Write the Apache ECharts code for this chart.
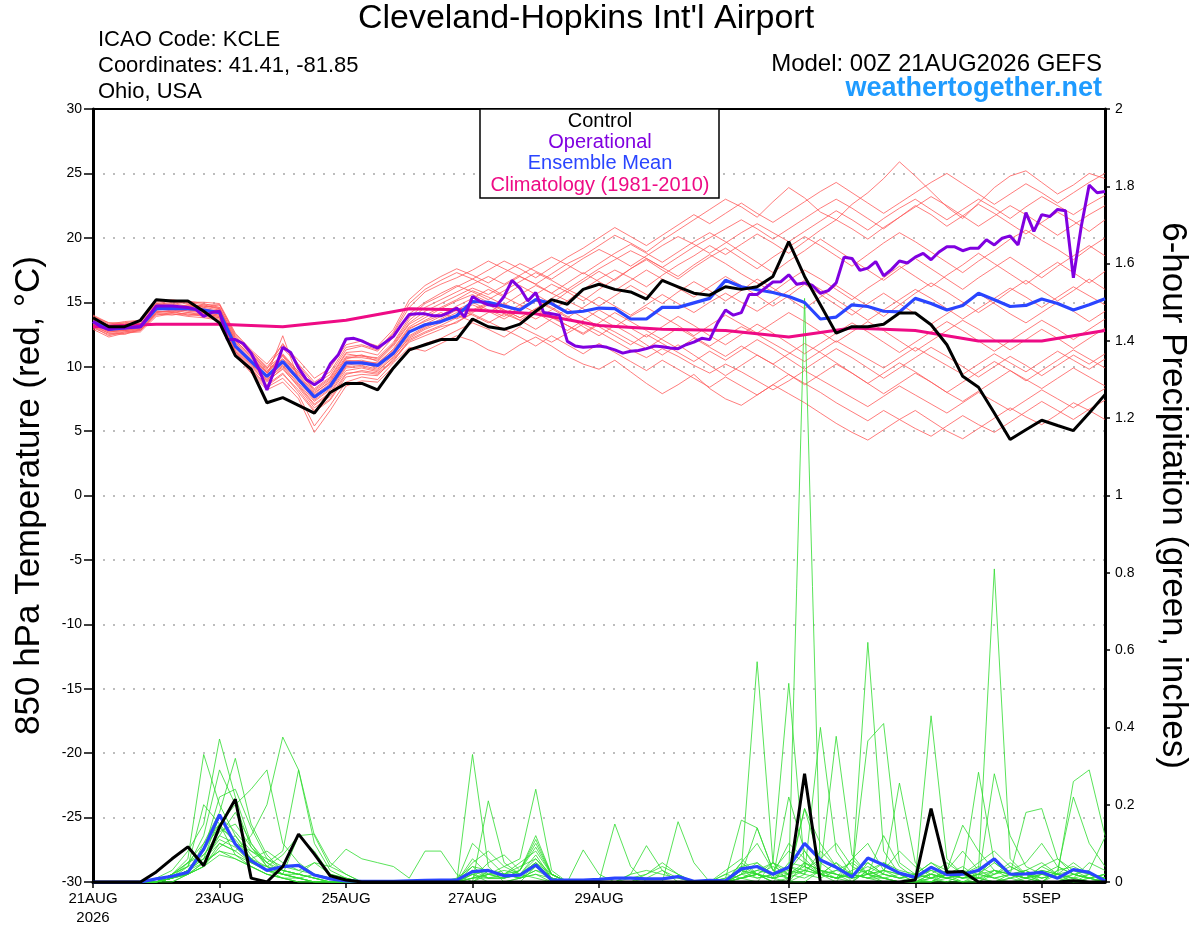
<!DOCTYPE html>
<html><head><meta charset="utf-8">
<script src="https://cdn.jsdelivr.net/npm/echarts@6/dist/echarts.min.js"></script>
<style>html,body{margin:0;padding:0;background:#fff}#c{width:1200px;height:927px}</style>
</head><body><div id="c"></div>
<script>
const FONT = "'Liberation Sans', Arial, Helvetica, sans-serif";
const memberStepHours = 6;
const opStepHours = 3;
const tickHours = [0, 48, 96, 144, 192, 264, 312, 360];
const tickLabels = ['21AUG\n2026', '23AUG', '25AUG', '27AUG', '29AUG', '1SEP', '3SEP', '5SEP'];

const climHours = [0,24,48,72,96,120,144,168,192,216,240,264,288,312,336,360,384];
const climValues = [13.1,13.3,13.3,13.1,13.6,14.5,14.4,14.1,13.2,12.9,12.8,12.3,13.0,12.8,12.0,12.0,12.8];

const controlTemp = [13.8,13.1,13.1,13.6,15.2,15.1,15.1,14.3,13.4,10.85,9.8,7.2,7.6,7.0,6.4,8.0,8.7,8.7,8.2,9.9,11.3,11.7,12.1,12.1,13.7,13.1,12.9,13.3,14.3,15.2,14.85,16.0,16.4,16.0,15.8,15.25,16.7,16.2,15.7,15.55,16.2,16.0,16.2,17.0,19.7,17.0,14.8,12.6,13.1,13.1,13.3,14.16,14.16,13.25,11.7,9.25,8.4,6.4,4.34,5.1,5.84,5.43,5.04,6.4,7.83];
const meanTemp = [13.5,12.9,13.0,13.1,14.5,14.5,14.5,14.4,14.2,11.6,10.4,9.25,10.4,9.0,7.65,8.5,10.3,10.3,10.1,11.05,12.7,13.25,13.5,13.95,15.06,15.0,14.7,14.4,15.2,14.9,14.2,14.3,14.55,14.5,13.7,13.7,14.6,14.6,14.95,15.3,16.7,16.2,15.97,15.76,15.45,14.98,13.7,13.85,14.8,14.67,14.3,14.25,15.3,14.9,14.4,14.75,15.7,15.2,14.67,14.75,15.25,14.9,14.4,14.8,15.28];
const operationalTemp = [
13.5,13.1,12.9,13.0,13.0,13.05,13.1,13.9,
14.7,14.7,14.7,14.65,14.6,14.45,13.9,14.2,
14.3,12.1,12.1,11.8,11.05,9.8,8.2,9.8,
11.5,11.1,9.9,9.0,8.6,9.0,10.2,10.9,
12.15,12.2,12.0,11.7,11.45,11.9,12.35,13.25,
14.05,14.1,14.1,13.95,13.95,14.2,14.55,13.85,
15.45,15.06,14.8,14.7,15.45,16.7,16.1,15.1,
15.75,14.2,14.1,14.0,11.96,11.6,11.5,11.55,
11.6,11.5,11.3,11.05,11.2,11.25,11.4,11.6,
11.55,11.45,11.4,11.7,11.9,12.2,12.1,13.4,
14.4,14.0,14.2,15.6,15.6,16.1,16.57,16.6,
17.13,16.4,16.5,16.3,15.7,15.9,16.5,18.5,
18.4,17.47,17.65,18.16,17.05,17.55,18.2,18.05,
18.5,18.8,18.3,18.9,19.3,19.3,19.0,19.2,
19.2,19.85,19.45,19.97,20.15,19.45,21.96,20.5,
21.8,21.65,22.2,22.1,16.9,20.9,24.1,23.5,
23.6];

const controlPrecip = [0,0,0,0,0.026,0.06,0.091,0.042,0.142,0.214,0.01,0,0.04, 0.124,0.072,0.016,0.005,0,0,0,0,0,0,0,0,0, 0,0,0,0,0,0,0,0,0,0,0,0,0, 0,0,0,0,0,0,0.28,0,0,0,0,0,0, 0.005,0.19,0.025,0.027,0,0,0,0,0,0,0.003,0,0];
const meanPrecip = [0,0,0,0,0.008,0.015,0.025,0.085,0.174,0.098,0.055,0.03,0.04, 0.043,0.018,0.008,0.003,0.002,0.002,0.002,0.003,0.004,0.005,0.005,0.027,0.03, 0.016,0.018,0.044,0.005,0.005,0.005,0.007,0.01,0.01,0.008,0.008,0.014,0.002, 0.004,0.003,0.034,0.04,0.02,0.038,0.1,0.057,0.038,0.013,0.062,0.044,0.023, 0.012,0.038,0.019,0.02,0.03,0.06,0.02,0.021,0.025,0.01,0.032,0.025,0.003];

const memberTemp01 = [13.8,13.2,13.4,13.3,14.8,15.0,14.9,14.6,14.8, 12.4,11.0,9.8,11.8,10.1,8.6,9.4,11.3,11.6,11.2,12.6,14.6, 15.8,16.4,16.9,17.5,18.2,17.6,17.0,16.4,17.2,18.0,18.6,19.4,20.2,19.6,18.9,19.8,20.6,21.4,22.2,23.0, 22.4,21.6,22.8,23.9,23.1,22.0,21.4,22.6,23.5,24.6,25.9,24.8,23.6,22.4,21.5,22.7,23.9,24.8,25.2,24.3,23.4,24.1,25.0,24.6];
const memberTemp02 = [13.2,12.6,12.5,12.9,14.2,14.3,14.0,14.1,13.9, 11.0,9.6,8.4,9.1,7.8,5.4,7.0,8.8,9.2,9.0,10.3,11.5, 11.2,11.8,12.4,12.0,11.3,10.9,11.7,12.3,11.6,10.8,10.2,9.8,10.5,9.6,8.7,7.9,8.6,9.4,8.3,7.5, 7.0,7.8,8.6,7.9,7.2,6.4,5.6,4.9,4.3,5.1,5.9,6.6,5.8,5.0,4.4,5.2,6.0,6.8,6.1,5.5,6.3,7.2,6.6,5.9];
const memberTemp03 = [13.6,13.0,13.2,13.4,14.6,14.7,14.6,14.8,14.5, 12.0,10.8,9.5,10.8,9.3,7.9,8.9,10.6,10.9,10.4,11.6,13.3, 14.0,14.6,15.2,15.9,15.4,14.8,15.6,16.3,15.7,15.1,16.0,16.8,17.5,16.9,16.2,17.1,17.9,18.6,19.4,18.7, 19.5,20.3,19.6,18.8,19.7,20.6,21.4,20.7,19.9,20.8,21.6,22.5,21.8,20.9,21.7,22.6,21.9,21.1,20.3,21.2,22.0,21.3,20.5,21.4];
const memberTemp04 = [13.1,12.4,12.7,12.8,14.1,14.0,14.2,14.0,13.8, 11.2,9.9,8.8,9.9,8.4,6.8,7.7,9.5,9.6,9.4,10.4,12.0, 12.6,13.1,13.4,14.2,14.8,14.1,13.6,14.4,13.8,13.2,12.5,13.3,12.7,12.0,11.4,12.2,13.0,12.3,11.6,12.4, 13.1,12.5,11.8,11.1,10.4,11.2,12.0,11.3,10.6,9.9,10.7,11.5,10.8,10.1,9.4,10.2,11.0,10.3,9.6,10.4,11.2,10.5,9.8,10.6];
const memberTemp05 = [14.0,13.4,13.3,13.5,14.9,14.8,15.1,14.9,14.6, 12.3,11.1,9.9,10.9,9.6,8.2,9.1,11.0,10.8,10.7,11.9,13.8, 14.9,15.5,16.2,16.8,16.2,15.5,16.3,15.6,14.9,15.8,16.6,17.4,16.7,17.6,18.3,17.5,16.8,17.7,18.5,19.2, 18.4,17.6,18.5,19.3,20.1,19.4,18.6,17.8,18.7,19.6,20.4,19.7,18.9,18.1,17.3,18.2,19.0,19.9,20.6,19.8,19.1,18.3,19.2,20.0];
const memberTemp06 = [13.3,12.8,12.9,13.0,14.4,14.6,14.3,14.2,14.0, 11.4,10.1,9.0,10.1,8.7,7.3,8.2,10.0,10.1,9.8,10.9,12.4, 13.1,13.7,14.4,15.0,14.4,13.9,14.6,15.2,14.6,13.9,13.1,12.4,13.2,12.5,11.7,10.9,11.7,10.9,10.1,9.3, 10.1,10.9,10.2,9.4,8.6,9.4,10.2,9.5,8.7,7.9,8.7,9.5,8.8,8.0,7.3,8.1,8.9,9.7,9.0,8.3,9.1,9.9,9.2,8.5];
const memberTemp07 = [13.7,13.1,13.1,13.2,14.7,14.4,14.7,14.5,14.3, 11.8,10.5,9.3,12.4,9.0,7.5,8.5,10.4,10.5,10.2,11.4,13.1, 13.8,14.5,15.1,15.6,15.0,14.4,13.8,14.5,15.3,16.0,15.4,14.7,15.5,16.3,15.6,14.9,15.8,16.6,15.9,15.1, 15.9,16.8,16.1,15.3,14.5,15.4,16.3,15.5,14.7,13.9,14.8,15.7,16.5,15.8,15.0,14.2,15.0,15.9,16.7,15.9,15.1,15.9,16.8,16.0];
const memberTemp08 = [12.9,12.3,12.6,12.7,13.9,14.1,13.9,13.8,13.6, 10.9,9.5,8.2,8.8,7.5,4.9,6.6,8.5,8.9,8.8,10.0,11.2, 11.8,12.2,12.8,13.4,12.9,12.3,13.1,12.5,11.9,12.6,13.3,12.7,12.0,11.3,10.7,11.4,10.8,10.1,9.5,10.2, 9.6,8.9,8.2,8.9,9.7,9.0,8.3,7.6,6.9,7.7,8.5,7.8,7.1,6.4,7.2,8.0,7.3,6.6,7.4,8.2,7.5,6.8,7.6,8.3];
const memberTemp09 = [13.5,13.0,13.1,13.2,14.5,14.6,14.6,14.3,14.4, 11.9,10.6,9.5,10.6,9.2,7.8,8.7,10.5,10.4,10.3,11.3,13.0, 13.5,14.0,14.7,15.3,16.0,15.4,14.8,15.6,16.4,15.8,15.1,16.0,16.8,17.6,18.4,17.7,17.0,17.9,18.7,18.0, 17.2,16.5,15.8,16.7,17.5,16.8,16.0,15.2,16.1,16.9,17.8,17.0,16.2,17.1,17.9,18.8,18.0,17.2,16.4,17.3,18.1,17.3,16.5,17.4];
const memberTemp10 = [13.4,12.7,12.8,13.0,14.3,14.2,14.4,14.3,14.1, 11.5,10.3,9.1,10.2,8.9,7.4,8.3,10.1,10.3,9.9,11.1,12.7, 13.3,13.9,14.5,14.0,13.4,14.1,14.8,14.2,13.5,12.8,13.6,14.4,13.7,13.0,12.3,13.1,13.9,13.2,12.4,11.7, 12.5,13.3,12.6,11.8,11.0,11.8,12.6,13.4,12.7,11.9,11.1,11.9,12.7,13.5,12.8,12.0,11.2,12.0,12.8,13.6,12.9,12.1,12.9,13.7];
const memberTemp11 = [13.9,13.3,13.5,13.6,15.0,15.2,15.0,15.0,14.9, 12.6,11.3,10.2,11.7,10.5,9.1,9.9,11.7,12.0,11.6,12.9,15.2, 16.3,17.0,17.6,17.1,16.5,17.3,18.0,17.4,16.8,17.6,18.4,19.1,18.5,17.8,18.6,19.4,20.1,19.5,18.8,19.6, 20.4,21.1,20.4,19.7,20.5,21.3,22.1,21.4,20.6,21.5,22.3,23.0,22.2,21.4,22.2,23.0,22.3,21.5,22.4,23.2,22.5,21.8,22.6,23.3];
const memberTemp12 = [13.0,12.5,12.6,12.8,14.0,14.2,14.1,13.9,13.7, 11.1,9.8,8.6,9.5,8.0,6.5,7.4,9.2,9.4,9.3,10.6,11.9, 12.4,12.9,13.5,14.1,13.5,12.9,12.3,11.6,12.4,11.7,11.0,11.8,11.1,10.4,9.7,10.5,9.8,9.1,8.4,9.2, 8.5,7.8,8.6,9.4,8.7,8.0,7.2,6.5,5.8,6.6,5.9,5.2,4.6,5.4,6.2,5.5,4.9,5.7,6.5,7.3,6.6,5.9,6.7,7.4];
const memberTemp13 = [13.6,13.1,13.0,13.1,14.6,14.5,14.8,14.6,14.4, 12.1,10.7,9.6,10.9,9.4,8.0,8.8,10.7,10.7,10.5,11.8,13.6, 14.6,15.2,15.8,16.4,17.0,16.4,17.1,17.8,18.5,17.9,17.2,18.0,18.8,19.5,18.8,18.1,18.9,19.7,20.4,19.7, 18.9,18.1,17.3,18.2,19.0,19.9,19.1,18.3,17.5,16.7,17.6,18.4,17.6,16.8,16.0,16.9,17.7,18.5,17.7,16.9,17.8,18.6,19.4,18.6];
const memberTemp14 = [13.2,12.7,12.8,12.9,14.2,14.4,14.2,14.1,13.9, 11.3,10.0,8.9,9.8,8.5,7.0,7.9,9.7,9.9,9.6,10.8,12.2, 12.9,13.4,14.0,13.5,14.2,14.9,14.3,13.7,14.4,15.1,14.5,13.8,13.1,13.9,14.6,13.9,13.2,12.4,13.2,14.0, 13.3,12.6,13.4,14.2,13.5,12.7,11.9,12.7,13.5,12.8,12.0,11.2,12.0,12.8,13.6,12.9,12.1,11.3,12.1,12.9,12.2,11.4,12.2,13.0];
const memberTemp15 = [13.8,13.2,13.3,13.5,14.8,14.9,14.7,14.7,14.6, 12.2,11.0,9.7,10.6,9.5,8.3,9.2,11.1,11.2,10.9,12.3,14.1, 15.0,15.7,16.3,15.8,15.2,15.9,16.6,17.3,16.7,16.0,16.8,17.6,18.3,19.0,18.4,17.7,18.5,19.3,20.0,20.7, 21.4,20.7,19.9,20.7,21.5,22.3,23.0,22.3,21.5,20.7,21.6,22.4,23.2,22.5,21.7,20.9,21.7,22.5,21.8,21.0,20.2,21.0,21.8,22.5];
const memberTemp16 = [13.4,12.9,12.9,13.1,14.4,14.5,14.5,14.4,14.2, 11.7,10.4,9.2,10.4,9.1,7.6,8.6,10.3,10.2,10.1,11.2,12.9, 13.6,14.2,13.7,14.3,14.9,14.3,13.6,12.9,13.7,14.5,13.8,13.1,12.4,11.7,12.5,11.8,11.1,10.4,11.2,10.5, 11.3,12.1,11.4,10.6,9.8,10.6,11.4,10.7,9.9,9.1,9.9,10.7,11.5,10.8,10.0,9.2,10.0,10.8,10.1,9.3,10.1,10.9,10.2,11.0];
const memberTemp17 = [13.7,13.0,13.2,13.3,14.7,14.6,14.8,14.7,14.5, 12.0,10.9,9.6,11.0,9.6,8.1,9.0,10.8,10.9,10.6,11.7,13.4, 14.3,14.9,15.5,16.1,15.6,16.3,17.0,16.4,15.7,16.5,17.3,16.6,15.9,16.7,17.5,16.8,16.1,15.4,16.2,17.0, 16.3,15.5,14.7,15.5,16.4,15.6,14.8,14.0,14.9,15.7,14.9,14.1,13.3,14.1,14.9,15.7,14.9,14.1,13.4,14.2,15.0,14.3,13.5,14.3];
const memberTemp18 = [13.1,12.6,12.7,12.9,14.1,14.1,14.0,14.0,13.8, 11.2,9.7,8.5,9.4,8.2,6.6,7.5,9.4,9.7,9.5,10.5,12.1, 12.7,13.2,13.8,14.4,15.0,14.4,13.8,14.5,13.9,13.2,12.6,13.4,14.2,13.5,12.8,12.1,11.4,12.2,11.5,10.8, 11.6,10.9,10.2,11.0,11.8,11.1,10.3,9.5,8.7,9.5,10.3,9.6,8.8,8.0,8.8,9.6,10.4,9.7,8.9,9.7,10.5,11.3,10.6,9.9];
const memberTemp19 = [13.9,13.4,13.4,13.6,14.9,15.1,15.0,14.8,14.8, 12.5,11.2,10.0,11.4,10.2,8.8,9.6,11.5,11.7,11.3,12.7,14.9, 16.0,16.7,17.3,16.8,17.5,18.2,17.6,16.9,17.7,18.5,19.2,20.0,20.8,20.1,19.4,20.2,21.0,21.8,21.1,21.9, 22.7,21.9,21.2,22.0,22.8,23.6,24.3,23.5,22.7,21.9,22.7,23.5,24.3,25.0,24.2,23.4,22.6,23.4,24.2,23.5,22.7,23.5,24.3,25.0];
const memberTemp20 = [13.3,12.8,12.8,13.0,14.3,14.3,14.4,14.2,14.0, 11.5,10.2,9.0,10.0,8.6,7.1,8.0,9.9,10.0,9.7,10.7,12.3, 13.0,13.6,14.2,14.8,14.3,13.7,14.4,15.1,14.5,13.8,14.6,15.4,14.7,14.0,14.8,15.6,14.9,14.2,15.0,15.7, 15.0,14.3,15.1,15.9,16.7,16.0,15.2,14.4,13.6,14.4,15.2,16.0,15.3,14.5,13.7,14.5,15.3,16.1,15.4,14.6,15.4,16.2,15.5,14.8];

const memberPrecip01 = [0,0,0,0,0.01,0.03,0.08,0.15,0.37,0.22,0.10,0.05,0.03, 0.02,0.01,0,0,0,0,0,0,0,0,0,0.02,0, 0,0,0.04,0.01,0,0,0,0,0,0,0,0,0, 0,0,0.01,0.02,0,0.01,1.51,0.02,0.05,0,0.03,0.01,0, 0,0.02,0.01,0,0,0.03,0.01,0,0,0,0.02,0.01,0];
const memberPrecip02 = [0,0,0,0,0,0.02,0.06,0.33,0.2,0.12,0.06,0.03,0.02, 0.01,0,0,0,0,0,0,0,0,0,0,0.33,0.04, 0,0.01,0.02,0,0,0,0,0,0,0,0,0,0, 0,0,0.02,0.05,0.01,0,0,0.03,0.02,0.01,0.62,0.08,0.02, 0,0,0.01,0,0,0.02,0.05,0.02,0,0,0.01,0,0];
const memberPrecip03 = [0,0,0,0,0,0.01,0.03,0.06,0.1,0.08,0.12,0.2,0.375, 0.29,0.12,0.04,0.02,0,0,0,0,0,0,0,0,0.21, 0.05,0.02,0.01,0,0,0,0,0,0,0,0,0,0, 0,0,0.03,0.57,0.05,0,0.02,0.4,0.08,0.02,0.01,0,0, 0,0.02,0.05,0.02,0,0,0.01,0.03,0,0,0,0.01,0];
const memberPrecip04 = [0,0,0,0,0,0.02,0.05,0.1,0.18,0.32,0.15,0.07,0.03, 0.02,0.01,0,0,0,0,0,0,0,0,0,0.05,0.08, 0.04,0.06,0.24,0.03,0,0,0,0,0,0,0,0,0, 0,0.02,0.01,0,0.05,0.514,0.04,0.02,0,0.06,0.02,0,0, 0,0,0.03,0.08,0.03,0.01,0,0.01,0.04,0.02,0,0,0.01];
const memberPrecip05 = [0,0,0,0,0,0.01,0.04,0.12,0.29,0.2,0.09,0.05,0.08, 0.29,0.1,0.03,0.01,0,0,0,0,0,0,0,0,0, 0,0.01,0.02,0.01,0,0,0,0.15,0.04,0,0,0,0, 0,0.01,0.16,0.14,0.03,0.01,0.19,0.05,0.02,0,0.03,0.05,0.02, 0,0.01,0,0,0.01,0.28,0.12,0.04,0.02,0.01,0,0,0];
const memberPrecip06 = [0,0,0,0,0,0.01,0.03,0.08,0.15,0.2,0.24,0.29,0.1, 0.05,0.02,0.01,0,0,0,0,0,0,0,0,0,0.03, 0.02,0.04,0.06,0.02,0,0,0,0,0,0,0,0.156,0.05, 0,0,0.05,0.02,0.01,0.22,0.08,0.03,0.02,0.01,0.02,0.12,0.04, 0.01,0,0.02,0,0.02,0.06,0.02,0.01,0,0.03,0.04,0.02,0];
const memberPrecip07 = [0,0,0,0,0,0,0.02,0.05,0.12,0.1,0.08,0.06,0.04, 0.03,0.05,0.04,0.085,0.06,0.05,0.04,0.01,0.08,0.08,0.02,0,0, 0,0,0,0,0,0,0,0,0.02,0.094,0.03,0,0, 0,0,0.01,0.02,0,0,0.05,0.03,0.01,0.06,0.1,0.03,0.01, 0,0,0.02,0.04,0.01,0,0.02,0.01,0,0.02,0.05,0.02,0.01];
const memberPrecip08 = [0,0,0,0,0,0.02,0.04,0.2,0.15,0.1,0.06,0.04,0.07, 0.12,0.08,0.02,0.01,0,0,0,0,0,0,0,0.1,0.06, 0.02,0.03,0.1,0.02,0,0.083,0.02,0,0,0,0,0,0, 0,0,0.05,0.1,0.03,0.08,0.05,0.03,0.377,0.07,0.02,0.01,0, 0.01,0.43,0.06,0.02,0.01,0,0.01,0.02,0.03,0.02,0.01,0,0];
const memberPrecip09 = [0,0,0,0,0,0.01,0.05,0.08,0.22,0.24,0.14,0.06,0.03, 0.02,0.05,0.02,0.01,0,0,0,0,0,0,0.01,0.04,0.03, 0.02,0.05,0.08,0.02,0,0,0,0,0,0,0,0,0, 0,0.02,0.04,0.02,0,0.05,0.04,0.02,0.01,0.02,0.365,0.41,0.05, 0.02,0.05,0.03,0.01,0.02,0.05,0.02,0.18,0.19,0.06,0.02,0.01,0];
const memberPrecip10 = [0,0,0,0,0,0.01,0.03,0.06,0.17,0.13,0.08,0.05,0.02, 0.12,0.124,0.05,0.02,0,0,0,0,0,0,0,0.03,0.02, 0.04,0.02,0.05,0.01,0,0,0,0,0,0,0,0,0, 0,0,0.03,0.02,0.05,0.03,0.02,0.08,0.04,0.01,0.02,0.03,0.08, 0.04,0.02,0.01,0.02,0.05,0.08,0.04,0.02,0.01,0.02,0.26,0.29,0.12];
const memberPrecip11 = [0,0,0,0,0,0,0.02,0.04,0.1,0.08,0.05,0.03,0.02, 0.01,0,0,0,0,0,0,0,0,0,0,0.06,0.02, 0.01,0.03,0.12,0.02,0,0,0,0,0,0,0,0,0, 0,0,0.02,0.14,0.03,0.02,0.19,0.1,0.04,0.02,0.01,0.01,0, 0,0,0,0.02,0.03,0.81,0.06,0.02,0,0.03,0.22,0.1,0.04];
const memberPrecip12 = [0,0,0,0,0,0.01,0.02,0.05,0.08,0.06,0.04,0.02,0.01, 0,0,0,0,0,0,0,0,0,0,0,0.01,0.05, 0.07,0.03,0.11,0.02,0,0,0,0,0,0,0,0,0, 0,0.03,0.06,0.02,0.04,0.02,0.05,0.02,0.01,0,0.05,0.02,0.256, 0.05,0.01,0.03,0.02,0.284,0.05,0.02,0.01,0.03,0.02,0,0.01,0.02];
const memberPrecip13 = [0,0,0,0,0,0.01,0.03,0.07,0.12,0.18,0.1,0.04,0.02, 0.01,0.02,0.01,0,0,0,0,0,0,0,0,0.02,0.01, 0.01,0.02,0.05,0.01,0,0,0,0,0,0.02,0.04,0.02,0, 0,0,0.02,0.01,0.02,0.04,0.03,0.06,0.1,0.04,0.02,0.05,0.03, 0.02,0.01,0.03,0.147,0.08,0.03,0.02,0.01,0.04,0.06,0.03,0.02,0.01];
const memberPrecip14 = [0,0,0,0,0,0.01,0.02,0.04,0.09,0.12,0.07,0.03,0.01, 0,0,0,0,0,0,0,0,0,0,0,0.01,0.02, 0.03,0.02,0.07,0.01,0,0,0,0,0.02,0.03,0.02,0.01,0, 0,0,0.01,0.03,0.02,0.1,0.06,0.02,0.01,0.03,0.05,0.02,0.01, 0.02,0.03,0.01,0.02,0.04,0.02,0.03,0.05,0.1,0.04,0.02,0.03,0.116];
const memberPrecip15 = [0,0,0,0,0,0.01,0.03,0.09,0.14,0.11,0.06,0.08,0.05, 0.03,0.02,0.01,0,0,0,0,0,0,0,0,0.03,0.01, 0.02,0.01,0.03,0.02,0,0,0,0,0.01,0.02,0.05,0.02,0, 0,0.01,0.03,0.02,0.01,0.04,0.02,0.01,0.03,0.02,0.04,0.02,0.01, 0.02,0.05,0.02,0.01,0.02,0.03,0.02,0.03,0.05,0.02,0.01,0.05,0.03];
const memberPrecip16 = [0,0,0,0,0,0.02,0.04,0.06,0.11,0.09,0.05,0.04,0.03, 0.02,0.01,0,0,0,0,0,0,0,0,0,0.04,0.01, 0.01,0.02,0.06,0.01,0,0,0,0,0,0,0,0,0, 0,0,0.03,0.01,0.02,0.03,0.08,0.02,0.01,0.02,0.03,0.01,0, 0,0.01,0.02,0.01,0.03,0.06,0.02,0,0.02,0.01,0,0.02,0.01];
const memberPrecip17 = [0,0,0,0,0,0.01,0.03,0.05,0.08,0.07,0.04,0.02,0.01, 0.01,0,0,0,0,0,0,0,0,0,0,0,0.02, 0.01,0.03,0.09,0.02,0,0,0,0,0,0,0,0,0, 0,0,0.04,0.05,0.02,0.01,0.03,0.02,0.03,0.05,0.02,0.01,0.02, 0.01,0.03,0.02,0.01,0.01,0.02,0.04,0.02,0.01,0.02,0.03,0.01,0];
const memberPrecip18 = [0,0,0,0,0,0.01,0.02,0.1,0.15,0.07,0.05,0.03,0.02, 0.01,0,0,0,0,0,0,0,0,0,0,0.02,0.03, 0.02,0.01,0.04,0.01,0,0,0,0,0,0,0,0,0, 0,0,0.02,0.03,0.05,0.02,0.01,0.03,0.02,0.01,0.02,0.03,0.02, 0.01,0.02,0.01,0.03,0.02,0.01,0.02,0.03,0.01,0.02,0.01,0.02,0.01];
const memberPrecip19 = [0,0,0,0,0,0.02,0.05,0.07,0.13,0.15,0.09,0.04,0.02, 0.02,0.01,0,0,0,0,0,0,0,0,0,0.01,0.01, 0.01,0.02,0.05,0.02,0,0,0,0,0,0.01,0.03,0.01,0, 0,0,0.01,0.02,0.01,0.02,0.04,0.02,0.05,0.02,0.01,0.03,0.02, 0.01,0.02,0.01,0.02,0.01,0.03,0.02,0.01,0.02,0.04,0.02,0.01,0.02];
const memberPrecip20 = [0,0,0,0,0,0.01,0.02,0.04,0.07,0.06,0.04,0.02,0.01, 0,0,0,0,0,0,0,0,0,0,0,0.01,0.02, 0.02,0.01,0.03,0.01,0,0,0,0,0,0,0,0,0, 0,0,0.01,0.02,0.01,0.02,0.03,0.02,0.01,0.02,0.01,0.02,0.01, 0.02,0.01,0.02,0.01,0.02,0.01,0.02,0.01,0.02,0.01,0.02,0.01,0.02];

const memberTemps = [memberTemp01,memberTemp02,memberTemp03,memberTemp04,memberTemp05,memberTemp06,memberTemp07,memberTemp08,memberTemp09,memberTemp10,memberTemp11,memberTemp12,memberTemp13,memberTemp14,memberTemp15,memberTemp16,memberTemp17,memberTemp18,memberTemp19,memberTemp20];
const memberPrecips = [memberPrecip01,memberPrecip02,memberPrecip03,memberPrecip04,memberPrecip05,memberPrecip06,memberPrecip07,memberPrecip08,memberPrecip09,memberPrecip10,memberPrecip11,memberPrecip12,memberPrecip13,memberPrecip14,memberPrecip15,memberPrecip16,memberPrecip17,memberPrecip18,memberPrecip19,memberPrecip20];

const COLORS = {red:'#ff5a5a', green:'#2fdc2f', control:'#000000', op:'#8000e0', mean:'#2a45ff', clim:'#ee0b85', web:'#1f9bff'};

function pairs(values, step) { return values.map((v, i) => [i * step, v]); }
function line(data, yIdx, color, width, z) {
  return {type:'line', data:data, yAxisIndex:yIdx, xAxisIndex:0, symbol:'none', silent:true, animation:false, z:z,
    lineStyle:{color:color, width:width}, itemStyle:{color:color}};
}

const series = [];
memberTemps.forEach(a => series.push(line(pairs(a, memberStepHours), 0, COLORS.red, 0.8, 2)));
memberPrecips.forEach(a => series.push(line(pairs(a, memberStepHours), 1, COLORS.green, 0.8, 2)));
series.push(line(climHours.map((h, i) => [h, climValues[i]]), 0, COLORS.clim, 3, 3));
series.push(line(pairs(meanTemp, memberStepHours), 0, COLORS.mean, 3.2, 3));
series.push(line(pairs(operationalTemp, opStepHours), 0, COLORS.op, 3, 3));
series.push(line(pairs(controlTemp, memberStepHours), 0, COLORS.control, 3, 3));
series.push(line(pairs(meanPrecip, memberStepHours), 1, COLORS.mean, 3.2, 3));
series.push(line(pairs(controlPrecip, memberStepHours), 1, COLORS.control, 3, 3));

function txt(x, y, text, size, color, align, weight) {
  return {type:'text', x:x, y:y, z:100, silent:true,
    style:{text:text, fontSize:size, fontFamily:FONT, fontWeight:weight || 'normal', fill:color, align:align, verticalAlign:'middle'}};
}

const option = {
  backgroundColor:'#ffffff',
  animation:false,
  grid:{left:93, right:95, top:109, bottom:44, show:false},
  xAxis:[
    {type:'value', min:0, max:384, position:'bottom',
      axisLine:{show:true, onZero:false, lineStyle:{color:'#000', width:3}},
      axisTick:{show:true, customValues:tickHours, length:6, lineStyle:{color:'#000', width:1.5}},
      axisLabel:{customValues:tickHours, formatter:(v) => { const k = tickHours.indexOf(v); return k >= 0 ? tickLabels[k] : ''; },
        color:'#000', fontSize:15, fontFamily:FONT, margin:7, lineHeight:19},
      splitLine:{show:false}},
    {type:'value', min:0, max:384, position:'top',
      axisLine:{show:true, onZero:false, lineStyle:{color:'#000', width:2}},
      axisTick:{show:false}, axisLabel:{show:false}, splitLine:{show:false}}
  ],
  yAxis:[
    {type:'value', min:-30, max:30, interval:5, position:'left',
      name:'850 hPa Temperature (red, °C)', nameLocation:'middle', nameGap:46, nameRotate:90,
      nameTextStyle:{fontSize:35, color:'#000', fontFamily:FONT},
      axisLine:{show:true, onZero:false, lineStyle:{color:'#000', width:3}},
      axisTick:{show:true, length:9, lineStyle:{color:'#000', width:1.5}},
      axisLabel:{color:'#000', fontSize:14, fontFamily:FONT, margin:11},
      splitLine:{show:true, lineStyle:{color:'#a8a8a8', width:1.5, type:[2,8]}}},
    {type:'value', min:0, max:2, interval:0.2, position:'right',
      name:'6-hour Precipitation (green, inches)', nameLocation:'middle', nameGap:50, nameRotate:-90,
      nameTextStyle:{fontSize:35, color:'#000', fontFamily:FONT},
      axisLine:{show:true, onZero:false, lineStyle:{color:'#000', width:3}},
      axisTick:{show:true, length:5, lineStyle:{color:'#000', width:1.5}},
      axisLabel:{color:'#000', fontSize:14, fontFamily:FONT, margin:10, formatter:(v) => String(Math.round(v * 10) / 10)},
      splitLine:{show:false}}
  ],
  series:series,
  graphic:[
    txt(586, 19, "Cleveland-Hopkins Int'l Airport", 34, '#000', 'center'),
    txt(98, 40, 'ICAO Code: KCLE', 22, '#000', 'left'),
    txt(98, 66, 'Coordinates: 41.41, -81.85', 22, '#000', 'left'),
    txt(98, 92, 'Ohio, USA', 22, '#000', 'left'),
    txt(1102, 64, 'Model: 00Z 21AUG2026 GEFS', 24, '#000', 'right'),
    txt(1102, 89, 'weathertogether.net', 27, COLORS.web, 'right', 'bold'),
    {type:'rect', z:99, silent:true, shape:{x:480, y:109, width:239, height:89}, style:{fill:'#fff', stroke:'#000', lineWidth:1.5}},
    txt(600, 121, 'Control', 20, COLORS.control, 'center'),
    txt(600, 142, 'Operational', 20, COLORS.op, 'center'),
    txt(600, 163, 'Ensemble Mean', 20, COLORS.mean, 'center'),
    txt(600, 185, 'Climatology (1981-2010)', 20, COLORS.clim, 'center')
  ]
};
echarts.init(document.getElementById('c'), null, {renderer:'canvas'}).setOption(option);
</script></body></html>
